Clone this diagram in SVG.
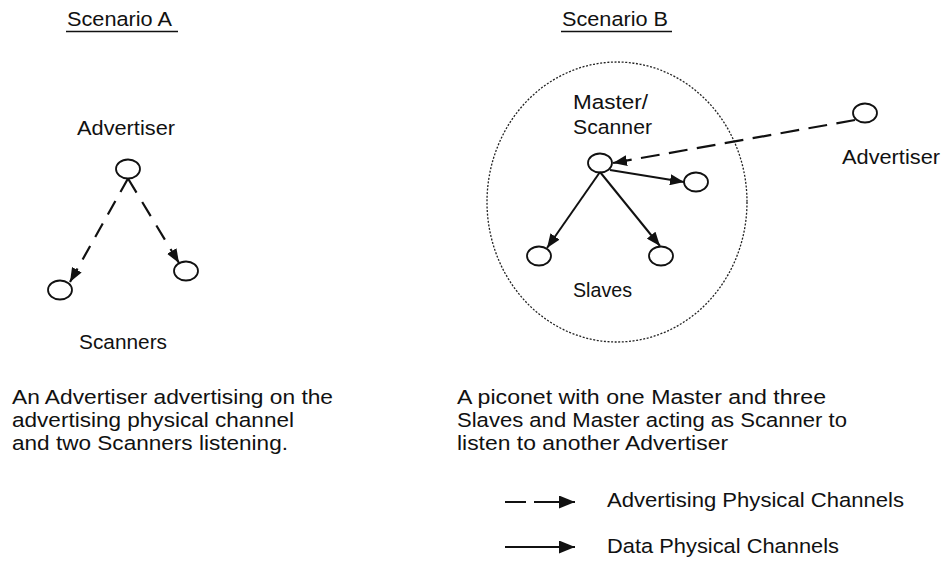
<svg xmlns="http://www.w3.org/2000/svg" width="943" height="561" viewBox="0 0 943 561">
  <style>
    .t { font-family: "Liberation Sans", Arial, sans-serif; font-size: 20.5px; fill: #111; }
    .node { fill: #fff; stroke: #111; stroke-width: 1.8; }
    .ul { stroke: #111; stroke-width: 1.6; }
    .adv { fill: none; stroke: #111; stroke-width: 2.2; }
    .data { fill: none; stroke: #111; stroke-width: 2; }
    .piconet { fill: none; stroke: #222; stroke-width: 1.3; stroke-dasharray: 2 1.6; }
  </style>
  <defs>
    <marker id="head" markerUnits="userSpaceOnUse" markerWidth="14" markerHeight="11" refX="14" refY="5.5" orient="auto">
      <path d="M0,0 L14,5.5 L0,11 z" fill="#111"/>
    </marker>
    <marker id="headLegend" markerUnits="userSpaceOnUse" markerWidth="16" markerHeight="13" refX="16" refY="6.5" orient="auto">
      <path d="M0,0 L16,6.5 L0,13 z" fill="#111"/>
    </marker>
  </defs>

  <!-- Scenario A -->
  <g id="title-a">
    <text class="t" x="67" y="26" textLength="105" lengthAdjust="spacingAndGlyphs">Scenario A</text>
    <line class="ul" x1="66" y1="31.5" x2="178" y2="31.5"/>
  </g>
  <g id="advertiser-a">
    <text class="t" x="77" y="135" textLength="98" lengthAdjust="spacingAndGlyphs">Advertiser</text>
    <ellipse class="node" cx="128" cy="169" rx="12" ry="9.5"/>
  </g>
  <g id="scanner-a1">
    <ellipse class="node" cx="60" cy="290" rx="12" ry="9.5"/>
  </g>
  <g id="scanner-a2">
    <ellipse class="node" cx="186" cy="271" rx="12" ry="9.5"/>
  </g>
  <g id="scanners-label">
    <text class="t" x="79" y="349" textLength="88" lengthAdjust="spacingAndGlyphs">Scanners</text>
  </g>
  <g id="caption-a">
    <text class="t" x="12" y="404" textLength="321" lengthAdjust="spacingAndGlyphs">An Advertiser advertising on the</text>
    <text class="t" x="12" y="427" textLength="282" lengthAdjust="spacingAndGlyphs">advertising physical channel</text>
    <text class="t" x="12" y="450" textLength="276" lengthAdjust="spacingAndGlyphs">and two Scanners listening.</text>
  </g>

  <!-- Scenario B -->
  <g id="title-b">
    <text class="t" x="562" y="26" textLength="106" lengthAdjust="spacingAndGlyphs">Scenario B</text>
    <line class="ul" x1="561" y1="31.5" x2="672" y2="31.5"/>
  </g>
  <g id="piconet">
    <ellipse class="piconet" cx="617" cy="202" rx="130" ry="140"/>
  </g>
  <g id="master">
    <text class="t" x="573" y="109" textLength="75" lengthAdjust="spacingAndGlyphs">Master/</text>
    <text class="t" x="573" y="134" textLength="79" lengthAdjust="spacingAndGlyphs">Scanner</text>
    <ellipse class="node" cx="600" cy="163" rx="12" ry="9.5"/>
  </g>
  <g id="slave-1">
    <ellipse class="node" cx="539" cy="256" rx="12" ry="9.5"/>
  </g>
  <g id="slave-2">
    <ellipse class="node" cx="661" cy="256" rx="12" ry="9.5"/>
  </g>
  <g id="slave-3">
    <ellipse class="node" cx="696" cy="182" rx="12" ry="9.5"/>
  </g>
  <g id="slaves-label">
    <text class="t" x="573" y="297" textLength="59" lengthAdjust="spacingAndGlyphs">Slaves</text>
  </g>
  <g id="advertiser-b">
    <ellipse class="node" cx="865" cy="113" rx="12" ry="9.5"/>
    <text class="t" x="842" y="164" textLength="98" lengthAdjust="spacingAndGlyphs">Advertiser</text>
  </g>
  <g id="caption-b">
    <text class="t" x="457" y="404" textLength="369" lengthAdjust="spacingAndGlyphs">A piconet with one Master and three</text>
    <text class="t" x="457" y="427" textLength="390" lengthAdjust="spacingAndGlyphs">Slaves and Master acting as Scanner to</text>
    <text class="t" x="457" y="450" textLength="271" lengthAdjust="spacingAndGlyphs">listen to another Advertiser</text>
  </g>

  <!-- Connectors -->
  <g id="connectors">
    <path class="adv" d="M128,178.5 L70,282" pathLength="100" stroke-dasharray="13 8.75" marker-end="url(#head)"/>
    <path class="adv" d="M128,178.5 L179,263" pathLength="100" stroke-dasharray="16.7 11.1" marker-end="url(#head)"/>
    <path class="adv" d="M855,120 L613,163" pathLength="100" stroke-dasharray="7.69 3.846" marker-end="url(#head)"/>
    <path class="data" d="M600,172 L547,248" marker-end="url(#head)"/>
    <path class="data" d="M600,172 L660,246" marker-end="url(#head)"/>
    <path class="data" d="M610,170 L684,182" marker-end="url(#head)"/>
  </g>

  <!-- Legend -->
  <g id="legend-advertising">
    <path class="adv" d="M505,502 L575,502" stroke-dasharray="21 8 60" marker-end="url(#headLegend)"/>
    <text class="t" x="607" y="507" textLength="297" lengthAdjust="spacingAndGlyphs">Advertising Physical Channels</text>
  </g>
  <g id="legend-data">
    <path class="data" d="M505,547 L575,547" marker-end="url(#headLegend)"/>
    <text class="t" x="607" y="553" textLength="232" lengthAdjust="spacingAndGlyphs">Data Physical Channels</text>
  </g>
</svg>
